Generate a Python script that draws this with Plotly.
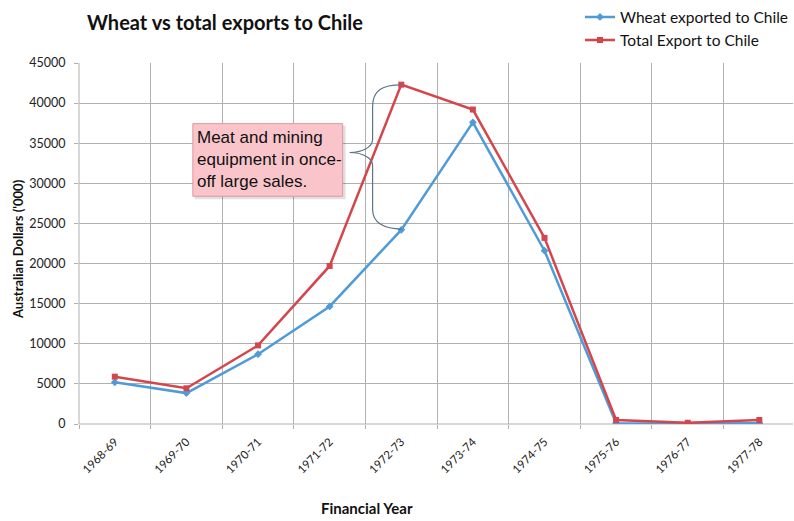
import plotly.graph_objects as go

years = ["1968-69", "1969-70", "1970-71", "1971-72", "1972-73",
         "1973-74", "1974-75", "1975-76", "1976-77", "1977-78"]
wheat = [5200, 3850, 8700, 14650, 24200, 37600, 21600, 100, 50, 100]
total = [5900, 4450, 9800, 19700, 42300, 39200, 23200, 500, 150, 500]
y_ticks = [0, 5000, 10000, 15000, 20000, 25000, 30000, 35000, 40000, 45000]

BLUE = "#4f9bd8"
RED = "#d4464b"
GRID = "#b0b0b0"
FONT = "Lato"

W, H = 794, 521
L, R, T, B = 79, 0, 61, 97
PW, PH = W - L - R, H - T - B
XR = [-0.5, 9.47]
YR = [0, 45000]

xs = list(range(len(years)))

fig = go.Figure()
fig.add_trace(go.Scatter(
    x=xs, y=wheat, name="Wheat exported to Chile", mode="lines+markers",
    line=dict(color=BLUE, width=2.5), marker=dict(symbol="diamond", size=6, color=BLUE),
    legendgroup="a"))
fig.add_trace(go.Scatter(
    x=xs, y=total, name="Total Export to Chile", mode="lines+markers",
    line=dict(color=RED, width=2.5), marker=dict(symbol="square", size=6, color=RED),
    legendgroup="b"))

# pixel helpers for decoration (brace / callout)
def dx(px):
    return XR[0] + (px - L) / PW * (XR[1] - XR[0])

def dy(py):
    return YR[0] + (T + PH - py) / PH * (YR[1] - YR[0])

def P(px, py):
    return f"{dx(px):.4f},{dy(py):.1f}"

brace = (f"M {P(402,83)} C {P(383,83)} {P(373,88)} {P(373,105)} "
         f"L {P(373,138)} C {P(373,146)} {P(362,151)} {P(350,151)} "
         f"C {P(362,151)} {P(373,156)} {P(373,164)} "
         f"L {P(373,208)} C {P(373,222)} {P(385,228)} {P(402,228)}")
fig.add_shape(type="path", path=brace, xref="x", yref="y",
              line=dict(color="#5d7486", width=1.2), layer="above")

def px2paper_x(px):
    return (px - L) / PW

def px2paper_y(py):
    return (T + PH - py) / PH

# shadow and box
fig.add_shape(type="rect", xref="paper", yref="paper",
              x0=px2paper_x(195), x1=px2paper_x(346), y0=px2paper_y(198), y1=px2paper_y(124),
              fillcolor="rgba(0,0,0,0.12)", line=dict(width=0), layer="above")
fig.add_shape(type="rect", xref="paper", yref="paper",
              x0=px2paper_x(193), x1=px2paper_x(343), y0=px2paper_y(195), y1=px2paper_y(122),
              fillcolor="#f9c5cb", line=dict(color="#e3959e", width=1), layer="above")
fig.add_annotation(
    xref="paper", yref="paper", x=px2paper_x(195), y=px2paper_y(124),
    xanchor="left", yanchor="top", align="left", showarrow=False,
    text="Meat and mining<br>equipment in once-<br>off large sales.",
    font=dict(family="Liberation Sans", size=17, color="#111111"))

# title and axis titles
fig.add_annotation(xref="paper", yref="paper", x=px2paper_x(85), y=px2paper_y(20),
                   xanchor="left", yanchor="middle", showarrow=False,
                   text="<b>Wheat vs total exports to Chile</b>",
                   font=dict(family=FONT, size=20, color="#111111"))
fig.add_annotation(xref="paper", yref="paper", x=px2paper_x(367), y=px2paper_y(508),
                   xanchor="center", yanchor="middle", showarrow=False,
                   text="<b>Financial Year</b>",
                   font=dict(family=FONT, size=15, color="#111111"))
fig.add_annotation(xref="paper", yref="paper", x=px2paper_x(18), y=px2paper_y(248),
                   xanchor="center", yanchor="middle", showarrow=False, textangle=-90,
                   text="<b>Australian Dollars ('000)</b>",
                   font=dict(family=FONT, size=13, color="#111111"))

fig.update_layout(
    width=W, height=H,
    margin=dict(l=L, r=R, t=T, b=B),
    paper_bgcolor="white", plot_bgcolor="white",
    font=dict(family=FONT, color="#222222"),
    showlegend=True,
    legend=dict(x=px2paper_x(581), y=px2paper_y(-2), xanchor="left", yanchor="top",
                font=dict(family=FONT, size=15.5, color="#111111"),
                bgcolor="rgba(0,0,0,0)", tracegroupgap=0, traceorder="grouped"),
    xaxis=dict(range=XR, tickmode="array", tickvals=xs, ticktext=years,
               tickangle=-45, tickfont=dict(family=FONT, size=11.5, color="#222222"),
               ticklabelstandoff=8,
               showgrid=False, zeroline=False, showline=False, ticks="",
               minor=dict(tick0=0.5, dtick=1, showgrid=True, gridcolor=GRID, gridwidth=1,
                          ticks="outside", ticklen=4, tickcolor=GRID)),
    yaxis=dict(range=YR, tickvals=y_ticks, ticktext=[str(v) for v in y_ticks],
               tickfont=dict(family=FONT, size=12.5, color="#222222"),
               showgrid=True, gridcolor=GRID, gridwidth=1, zeroline=False,
               showline=False, ticks="outside", ticklen=4, tickcolor=GRID,
               ticklabelstandoff=6),
)
# left axis line and bottom baseline as grey lines
fig.add_shape(type="line", xref="paper", yref="paper", x0=0, x1=0, y0=0, y1=1,
              line=dict(color=GRID, width=1), layer="below")
fig.add_shape(type="line", xref="paper", yref="paper", x0=0, x1=1, y0=0, y1=0,
              line=dict(color=GRID, width=1), layer="below")

fig.write_html("out.html", config={"displayModeBar": False},
               post_script="document.body.style.margin='0';document.body.style.overflow='hidden';")
